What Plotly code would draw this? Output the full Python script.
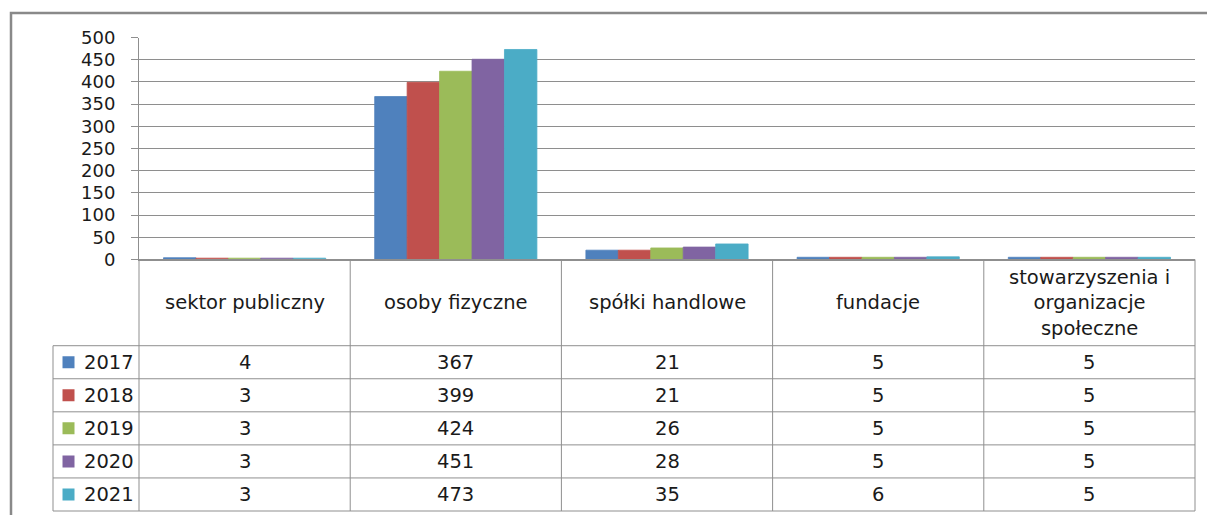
import plotly.graph_objects as go

# ---------------- data ----------------
categories = ["sektor publiczny", "osoby fizyczne", "spółki handlowe",
              "fundacje", "stowarzyszenia i organizacje społeczne"]
header_labels = ["sektor publiczny", "osoby fizyczne", "spółki handlowe",
                 "fundacje", "stowarzyszenia i<br>organizacje<br>społeczne"]
years = ["2017", "2018", "2019", "2020", "2021"]
v2017 = [4, 367, 21, 5, 5]
v2018 = [3, 399, 21, 5, 5]
v2019 = [3, 424, 26, 5, 5]
v2020 = [3, 451, 28, 5, 5]
v2021 = [3, 473, 35, 6, 5]
series = [v2017, v2018, v2019, v2020, v2021]
colors = ["#4F81BD", "#C0504D", "#9BBB59", "#8064A2", "#4BACC6"]
y_tick_vals = [0, 50, 100, 150, 200, 250, 300, 350, 400, 450, 500]

# ---------------- layout geometry (pixels) ----------------
W, H = 1207, 515
PL, PR, PT, PB = 139, 1195, 37.5, 259.5      # bar plot area
TB = 511                                     # table bottom
HDR_B = 345.7                                # header row bottom
LEG_L = 53                                   # legend column left
unit_x = (PR - PL) / len(categories)
row_h = (TB - HDR_B) / len(years)
hdr = (HDR_B - PB) / row_h
xl = -0.5 - (PL - LEG_L) / unit_x
padx, pady = 0.03, 0.1

FONT = "DejaVu Sans"
TXT = "#1a1a1a"
LINE = "#8f8f8f"
TFS = 19.5   # table font size
AFS = 18     # axis font size

def fx(px):
    return px / W

def fy(py):
    return 1 - py / H

fig = go.Figure()

for yr, vals, col in zip(years, series, colors):
    fig.add_trace(go.Bar(
        x=categories, y=vals, name=yr,
        marker=dict(color=col, line=dict(color=col, width=0.8)),
        xaxis="x", yaxis="y", showlegend=False, hoverinfo="x+y+name"))

# legend keys in the table
n = len(years)
fig.add_trace(go.Scatter(
    x=[xl + 15.5 / unit_x] * n,
    y=[n - 0.5 - i for i in range(n)],
    mode="markers",
    marker=dict(symbol="square", size=12, color=colors),
    xaxis="x2", yaxis="y2", showlegend=False, hoverinfo="skip"))

shapes = []
for k in range(n + 1):
    shapes.append(dict(type="line", xref="x2", yref="y2", x0=xl, x1=4.5,
                       y0=k, y1=k, line=dict(color=LINE, width=1)))
shapes.append(dict(type="line", xref="x2", yref="y2", x0=-0.5, x1=4.5,
                   y0=n + hdr, y1=n + hdr, line=dict(color=LINE, width=1)))
for k in range(len(categories) + 1):
    shapes.append(dict(type="line", xref="x2", yref="y2", x0=-0.5 + k,
                       x1=-0.5 + k, y0=0, y1=n + hdr,
                       line=dict(color=LINE, width=1)))
shapes.append(dict(type="line", xref="x2", yref="y2", x0=xl, x1=xl,
                   y0=0, y1=n, line=dict(color=LINE, width=1)))
# outer chart border
shapes.append(dict(type="rect", xref="paper", yref="paper",
                   x0=fx(11), x1=1.05, y0=-0.05, y1=fy(13),
                   line=dict(color="#898989", width=2.5)))

annotations = []
for j, lab in enumerate(header_labels):
    annotations.append(dict(x=j, y=n + hdr / 2, xref="x2", yref="y2",
                            text=lab, showarrow=False,
                            font=dict(family=FONT, size=TFS, color=TXT)))
for i, (yr, vals) in enumerate(zip(years, series)):
    yc = n - 0.5 - i
    annotations.append(dict(x=xl + 29 / unit_x, y=yc, xref="x2", yref="y2",
                            text=yr, showarrow=False, xanchor="left",
                            font=dict(family=FONT, size=TFS, color=TXT)))
    for j, v in enumerate(vals):
        annotations.append(dict(x=j, y=yc, xref="x2", yref="y2",
                                text=str(v), showarrow=False,
                                font=dict(family=FONT, size=TFS, color=TXT)))

fig.update_layout(
    width=W, height=H,
    margin=dict(l=0, r=0, t=0, b=0, pad=0, autoexpand=False),
    paper_bgcolor="white", plot_bgcolor="rgba(0,0,0,0)",
    barmode="group", bargap=0.232, bargroupgap=0,
    showlegend=False,
    xaxis=dict(domain=[fx(PL), fx(PR)], type="category",
               categoryorder="array", categoryarray=categories,
               range=[-0.5, 4.5], showticklabels=False, ticks="",
               showline=True, linecolor=LINE, linewidth=1,
               showgrid=False, zeroline=False, fixedrange=True,
               automargin=False),
    yaxis=dict(domain=[fy(PB), fy(PT)], range=[0, 500],
               tickvals=y_tick_vals, ticks="outside", ticklen=7,
               tickcolor=LINE, showline=True, linecolor=LINE, linewidth=1,
               showgrid=True, gridcolor="#8e8e8e", gridwidth=1,
               zeroline=False, ticklabelstandoff=12, automargin=False,
               tickfont=dict(family=FONT, size=AFS, color=TXT),
               fixedrange=True),
    xaxis2=dict(domain=[fx(LEG_L - padx * unit_x), fx(PR + padx * unit_x)],
                range=[xl - padx, 4.5 + padx], visible=False,
                anchor="y2", fixedrange=True),
    yaxis2=dict(domain=[fy(TB + pady * row_h), fy(PB - pady * row_h)],
                range=[-pady, n + hdr + pady], visible=False,
                anchor="x2", fixedrange=True),
    shapes=shapes,
    annotations=annotations,
)

fig.write_html("out.html",
               config={"displayModeBar": False},
               post_script="document.body.style.margin='0px';"
                           "document.body.style.overflow='hidden';")
